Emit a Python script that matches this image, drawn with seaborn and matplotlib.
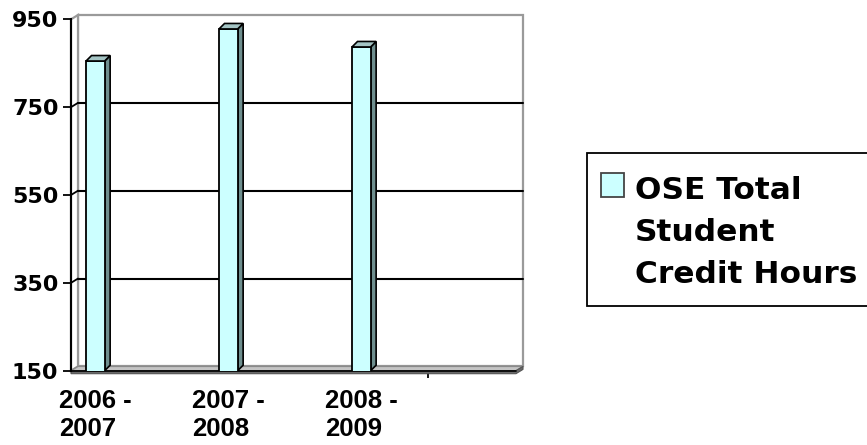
import matplotlib
matplotlib.use("Agg")
import matplotlib.pyplot as plt
import seaborn as sns
import pandas as pd
from matplotlib.patches import Polygon, Rectangle

# ---- data -------------------------------------------------------------
years = ["2006 -\n2007", "2007 -\n2008", "2008 -\n2009"]
hours = [855, 928, 887]
series_name = "OSE Total\nStudent\nCredit Hours"
y_ticks = [150, 350, 550, 750, 950]

# ---- style ------------------------------------------------------------
sns.set_style("white")
plt.rcParams["font.family"] = ["Liberation Sans", "DejaVu Sans"]
plt.rcParams["text.color"] = "black"
plt.rcParams["xtick.color"] = "black"
plt.rcParams["ytick.color"] = "black"
plt.rcParams["axes.labelcolor"] = "black"

FRONT = "#CCFFFF"
SIDE = "#6E8E8E"
TOP = "#A4C4C4"
WALL_EDGE = "#9A9A9A"

W, H = 867, 445
fig = plt.figure(figsize=(W / 100, H / 100), dpi=100)


def fx(px):
    return px / W


def fy(py):
    return 1 - py / H


# front plane of the 3-D box, in pixels
x0_px, x1_px = 71, 516
ybot_px, ytop_px = 370.7, 19.3
ax = fig.add_axes([fx(x0_px), fy(ybot_px),
                   (x1_px - x0_px) / W, (ybot_px - ytop_px) / H])
ax.set_facecolor("none")

df = pd.DataFrame({"year": years, "hours": hours})
sns.barplot(data=df, x="year", y="hours", color=FRONT, saturation=1,
            width=0.14, edgecolor="black", linewidth=1.3, ax=ax, zorder=5)

xl, xr = -0.183, 3.163
ax.set_xlim(xl, xr)
ax.set_ylim(150, 950)

# pixel -> data conversion
p00 = ax.transData.transform((0, 0))
p11 = ax.transData.transform((1, 1))
ppx = p11[0] - p00[0]
ppy = p11[1] - p00[1]

# depth offsets (walls and bars)
wdx, wdy = 7 / ppx, 4.3 / ppy
bdx, bdy = 5.5 / ppx, 5.5 / ppy

ymin, ymax = 150, 950

# back wall
ax.add_patch(Polygon([(xl + wdx, ymin + wdy), (xr + wdx, ymin + wdy),
                      (xr + wdx, ymax + wdy), (xl + wdx, ymax + wdy)],
                     closed=True, facecolor="white", edgecolor=WALL_EDGE,
                     linewidth=1.6, clip_on=False, zorder=0))
# left side wall
ax.add_patch(Polygon([(xl, ymin), (xl + wdx, ymin + wdy),
                      (xl + wdx, ymax + wdy), (xl, ymax)],
                     closed=True, facecolor="white", edgecolor=WALL_EDGE,
                     linewidth=1.6, clip_on=False, zorder=0.5))

# gridlines on the back wall, joined to the axis ticks
for v in y_ticks[1:-1]:
    ax.plot([xl + wdx, xr + wdx], [v + wdy, v + wdy], color="black",
            linewidth=1.5, clip_on=False, zorder=1)
    ax.plot([xl, xl + wdx], [v, v + wdy], color="black",
            linewidth=1.3, clip_on=False, zorder=1)

# floor: top surface and thin front slab
slab = 3 / ppy
ax.add_patch(Polygon([(xl, ymin), (xr, ymin), (xr + wdx, ymin + wdy),
                      (xl + wdx, ymin + wdy)],
                     closed=True, facecolor="#C4C4C4", edgecolor="#8A8A8A",
                     linewidth=1.0, clip_on=False, zorder=2))
ax.add_patch(Polygon([(xl, ymin), (xr, ymin), (xr + wdx, ymin + wdy),
                      (xr + wdx, ymin + wdy - slab), (xr, ymin - slab),
                      (xl, ymin - slab)],
                     closed=True, facecolor="#6A6A6A", edgecolor="#555555",
                     linewidth=0.8, clip_on=False, zorder=2.5))
ax.plot([xl, xr], [ymin, ymin], color="black", linewidth=1.2,
        clip_on=False, zorder=3)

# side and top faces of each column
for bar in ax.patches[:len(hours)]:
    bx0 = bar.get_x()
    bx1 = bx0 + bar.get_width()
    top = bar.get_y() + bar.get_height()
    ax.add_patch(Polygon([(bx1, ymin), (bx1, top), (bx1 + bdx, top + bdy),
                          (bx1 + bdx, ymin + bdy)],
                         closed=True, facecolor=SIDE, edgecolor="black",
                         linewidth=1.2, clip_on=False, zorder=4))
    ax.add_patch(Polygon([(bx0, top), (bx1, top), (bx1 + bdx, top + bdy),
                          (bx0 + bdx, top + bdy)],
                         closed=True, facecolor=TOP, edgecolor="black",
                         linewidth=1.2, clip_on=False, zorder=6))

# axes
for s in ["top", "right", "bottom"]:
    ax.spines[s].set_visible(False)
ax.spines["left"].set_color("black")
ax.spines["left"].set_linewidth(1.5)
ax.spines["left"].set_zorder(7)

ax.set_yticks(y_ticks)
ax.set_yticklabels([str(v) for v in y_ticks], fontsize=16,
                   fontweight="bold", family="DejaVu Sans")
ax.tick_params(axis="y", direction="out", length=6, width=1.3,
               color="black", labelcolor="black", pad=3, left=True)

ax.set_xticks([0, 1, 2])
ax.set_xticklabels(years, fontsize=18.5, fontweight="bold")
for lbl in ax.get_xticklabels():
    lbl.set_multialignment("left")
ax.tick_params(axis="x", which="major", length=0, pad=13, bottom=True,
               labelcolor="black")
ax.set_xticks([2.5], minor=True)
ax.tick_params(axis="x", which="minor", direction="out", length=5,
               width=1.3, color="black", bottom=True)
ax.set_xlabel("")
ax.set_ylabel("")

# legend box (runs off the right edge of the figure)
fig.patches.append(Rectangle((fx(587), fy(306)), (300) / W, (306 - 153) / H,
                             transform=fig.transFigure, facecolor="white",
                             edgecolor="black", linewidth=1.3, zorder=1))
fig.patches.append(Rectangle((fx(601), fy(197)), 23 / W, 24 / H,
                             transform=fig.transFigure, facecolor=FRONT,
                             edgecolor="#444444", linewidth=1.3, zorder=2))
# multi-line text: "baseline" refers to the last line
fig.text(fx(635), fy(283), series_name, ha="left", va="baseline",
         fontsize=22.5, fontweight="bold", family="DejaVu Sans",
         color="black", linespacing=1.57, zorder=3)

fig.savefig("out.png", dpi=100)
